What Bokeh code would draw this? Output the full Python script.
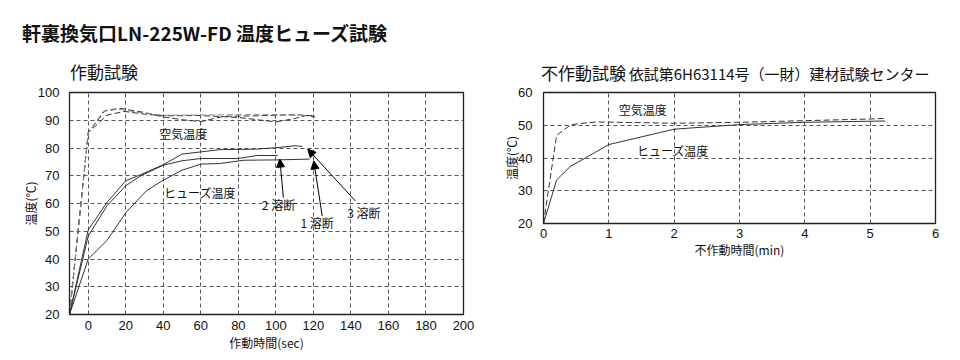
from bokeh.plotting import figure
from bokeh.layouts import row, column
from bokeh.models import Label, Arrow, NormalHead, FixedTicker, Range1d, Div
from bokeh.embed import file_html
from bokeh.resources import INLINE

CJK = "Noto Sans CJK JP"
NUM = "Liberation Sans"

# ---------------- texts ----------------
main_title = "軒裏換気口LN-225W-FD 温度ヒューズ試験"
left_title = "作動試験"
right_title = "不作動試験"
right_note = "依試第6H63114号（一財）建材試験センター"

# ---------------- data: 作動試験 (sec) ----------------
fuse1_x = [-10, 0, 10, 20, 31, 40, 50, 60, 70, 83, 100, 118]
fuse1_y = [20, 40, 46.7, 56.7, 64.6, 68.4, 72, 74.2, 74.4, 75.6, 75.7, 76]
fuse2_x = [-10, 0, 10, 20, 28, 40, 50, 60, 80, 90, 101]
fuse2_y = [20, 48.3, 59.2, 66.4, 70, 73.8, 75.4, 76.2, 76.2, 77.3, 77.3]
fuse3_x = [-10, 0, 10, 20, 28, 40, 50, 70, 90, 100, 110, 114]
fuse3_y = [20, 50.5, 60.4, 68.2, 70.4, 74, 77.8, 79.4, 79.6, 80.1, 80.8, 80.6]

airA_x = [-10, 0, 9, 17, 30, 40, 50, 60, 72, 90, 100, 110, 120]
airA_y = [20, 85.5, 93.5, 94.3, 92.8, 91.2, 90.2, 89.5, 91.4, 91.6, 91.8, 92, 91.6]
airB_x = [-10, 0, 10, 19, 30, 40, 60, 80, 100, 110, 116, 121]
airB_y = [20, 85.5, 91.8, 93.2, 92.2, 91.6, 91.7, 91, 89.4, 90.6, 91.7, 91.2]
airC_x = [-10, 0, 8, 16, 30, 40, 60, 80, 100, 112]
airC_y = [20, 85.5, 93.2, 94, 92.5, 91.8, 91.9, 92, 92, 91.8]

x1_ticks = list(range(0, 201, 20))
y1_ticks = list(range(20, 101, 10))

# ---------------- data: 不作動試験 (min) ----------------
air2_x = [0, 0.2, 0.42, 0.8, 1.5, 2, 3, 4, 5, 5.23]
air2_y = [20, 46.9, 50.2, 51, 50.8, 50.6, 50.9, 51.4, 51.9, 52.1]
fuse_x = [0, 0.2, 0.41, 1.0, 2.0, 3.0, 4.0, 5.23]
fuse_y = [20, 33.3, 37.4, 44.1, 48.8, 50.2, 50.9, 51.3]

x2_ticks = [0, 1, 2, 3, 4, 5, 6]
y2_ticks = [20, 30, 40, 50, 60]


def style(p, xt, yt, xlab, ylab, xstand, ystand, xlstand, ylstand):
    p.xaxis.ticker = FixedTicker(ticks=xt)
    p.yaxis.ticker = FixedTicker(ticks=yt)
    p.xgrid.ticker = FixedTicker(ticks=xt)
    p.ygrid.ticker = FixedTicker(ticks=yt)
    p.grid.grid_line_color = "#555555"
    p.grid.grid_line_dash = "4 3"
    p.grid.grid_line_width = 1
    p.outline_line_color = "#222222"
    p.outline_line_width = 1.3
    p.outline_line_alpha = 1
    for ax in (p.xaxis, p.yaxis):
        ax.axis_line_color = "#222222"
        ax.major_tick_line_color = None
        ax.minor_tick_line_color = None
        ax.major_label_text_font = NUM
        ax.major_label_text_font_size = "13px"
        ax.major_label_text_color = "#111111"
        ax.axis_label_text_font = CJK
        ax.axis_label_text_font_size = "12px"
        ax.axis_label_text_font_style = "normal"
        ax.axis_label_text_color = "#111111"
    p.xaxis.major_label_standoff = xstand
    p.yaxis.major_label_standoff = ystand
    p.xaxis.axis_label = xlab
    p.yaxis.axis_label = ylab
    p.xaxis.axis_label_standoff = xlstand
    p.yaxis.axis_label_standoff = ylstand
    p.background_fill_color = "white"
    p.border_fill_color = "white"


def lab(p, x, y, t, size="12px"):
    p.add_layout(Label(x=x, y=y, text=t, text_font=CJK, text_font_size=size,
                       text_baseline="middle", text_align="left",
                       text_color="#111111"))


# ---------------- header (titles) ----------------
header_html = (
    '<div style="position:relative;width:952px;height:84px;'
    'font-family:\'Noto Sans CJK JP\';color:#111;">'
    '<span style="position:absolute;left:22px;top:23px;font-size:19px;'
    'font-weight:bold;line-height:1;white-space:nowrap;">%s</span>'
    '<span style="position:absolute;left:70px;top:63px;font-size:17px;'
    'line-height:1;white-space:nowrap;">%s</span>'
    '<span style="position:absolute;left:541px;top:64px;line-height:1;'
    'white-space:nowrap;"><span style="font-size:17px;">%s</span> '
    '<span style="font-size:15px;">%s</span></span>'
    '</div>' % (main_title, left_title, right_title, right_note)
)
header = Div(text=header_html, width=952, height=84, margin=0)

# ---------------- left figure ----------------
p1 = figure(frame_width=394, frame_height=222,
            x_range=Range1d(-10, 200), y_range=Range1d(20, 100),
            output_backend="svg", toolbar_location=None,
            min_border_left=69, min_border_right=17,
            min_border_top=8, min_border_bottom=38)
style(p1, x1_ticks, y1_ticks, "作動時間(sec)", "温度(℃)", 0, 4, 1, -4)

for xs, ys, c in ((airA_x, airA_y, "#333333"), (airB_x, airB_y, "#333333"),
                  (airC_x, airC_y, "#888888")):
    p1.line(xs, ys, line_color=c, line_width=1, line_dash="6 3")
for xs, ys in ((fuse1_x, fuse1_y), (fuse2_x, fuse2_y), (fuse3_x, fuse3_y)):
    p1.line(xs, ys, line_color="#333333", line_width=1)

for (x0, y0, x1, y1) in ((104, 62.1, 102.1, 76.0),
                         (124.7, 55.5, 120.2, 75.3),
                         (142.4, 60.9, 117.0, 79.6)):
    p1.add_layout(Arrow(x_start=x0, y_start=y0, x_end=x1, y_end=y1,
                        line_color="black", line_width=1,
                        end=NormalHead(size=8, fill_color="black",
                                       line_color="black", line_width=1)))

lab(p1, 37.8, 85.1, "空気温度")
lab(p1, 40.4, 63.9, "ヒューズ温度")
lab(p1, 92.5, 59.5, "2 溶断")
lab(p1, 113.1, 53.1, "1 溶断")
lab(p1, 138.0, 56.7, "3 溶断")

# ---------------- right figure ----------------
p2 = figure(frame_width=392, frame_height=131,
            x_range=Range1d(0, 6), y_range=Range1d(20, 60),
            output_backend="svg", toolbar_location=None,
            min_border_left=63, min_border_right=17,
            min_border_top=7, min_border_bottom=130)
style(p2, x2_ticks, y2_ticks, "不作動時間(min)", "温度(℃)", -1, 5, 0, -5)

p2.line(air2_x, air2_y, line_color="#333333", line_width=1, line_dash="6 3")
p2.line(fuse_x, fuse_y, line_color="#333333", line_width=1)

lab(p2, 1.15, 54.7, "空気温度")
lab(p2, 1.43, 42.4, "ヒューズ温度")

layout = column(header, row(p1, p2))
open("out.html", "w").write(file_html(layout, INLINE))
